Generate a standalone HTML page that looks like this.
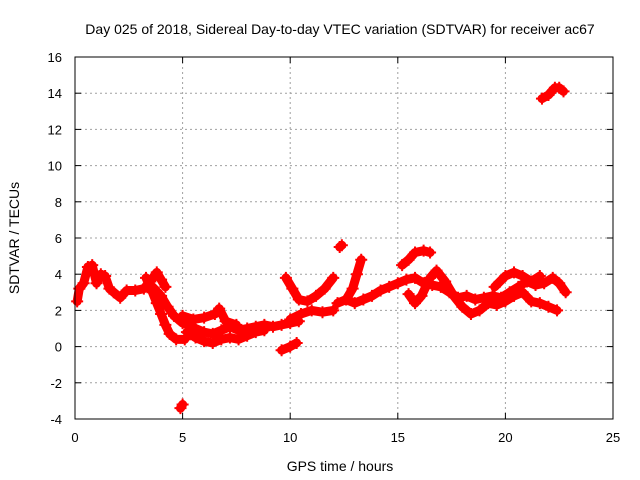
<!DOCTYPE html>
<html><head><meta charset="utf-8"><style>
body{margin:0;background:#fff;}
svg{display:block;font-family:"Liberation Sans",sans-serif;}
</style></head><body>
<svg id="c" width="640" height="480">
<text x="340" y="34" font-size="14" text-anchor="middle">Day 025 of 2018, Sidereal Day-to-day VTEC variation (SDTVAR) for receiver ac67</text>
<text x="340" y="471" font-size="14" text-anchor="middle">GPS time / hours</text>
<text transform="translate(19,238) rotate(-90)" font-size="14" text-anchor="middle">SDTVAR / TECUs</text>
<g id="grid"></g><g id="marks"></g>
<rect x="75" y="57" width="538" height="362" fill="none" stroke="#000" stroke-width="1"/>
</svg>
<script>
const xTicks=[0,5,10,15,20,25];
const yTicks=[-4,-2,0,2,4,6,8,10,12,14,16];
const trackEarly=[[0.1,2.5],[0.2,3.2],[0.4,3.5],[0.6,4.4],[0.8,4.5],[1.0,3.5],[1.2,4.0],[1.4,3.9],[1.6,3.2],[1.8,3.0],[2.1,2.7],[2.4,3.1],[2.8,3.1],[3.2,3.2],[3.5,3.6],[3.8,4.1],[4.0,3.7],[4.2,3.3]];
const trackDescentA=[[3.3,3.8],[3.6,3.0],[3.8,2.4],[4.0,1.8],[4.2,1.2],[4.4,0.7],[4.7,0.4],[5.1,0.4]];
const trackDescentB=[[3.6,3.3],[4.0,2.8],[4.3,2.2],[4.6,1.7],[5.0,1.3],[5.3,1.2],[5.6,1.0],[6.0,0.8],[6.4,0.7],[6.8,0.9],[7.2,1.1],[7.6,0.9],[8.0,1.0],[8.4,1.1],[8.8,1.2],[9.2,1.1],[9.6,1.2],[10.0,1.3],[10.4,1.4]];
const trackLow=[[5.2,0.8],[5.6,0.5],[6.0,0.3],[6.4,0.2],[6.8,0.4],[7.2,0.5],[7.6,0.4],[8.0,0.6],[8.4,0.8],[8.8,0.9]];
const trackMid=[[5.0,1.7],[5.5,1.5],[6.0,1.6],[6.5,1.8],[6.7,2.1],[7.0,1.4],[7.5,1.2]];
const trackNeg=[[9.6,-0.2],[10.0,0.0],[10.3,0.2]];
const trackOutlier=[[4.9,-3.4],[5.0,-3.2]];
const trackNoonA=[[9.8,3.8],[10.1,3.2],[10.4,2.6],[10.8,2.5],[11.2,2.8],[11.6,3.2],[12.0,3.8]];
const trackNoonB=[[10.0,1.5],[10.5,1.8],[11.0,2.0],[11.5,1.9],[12.0,2.0]];
const trackSpike=[[12.3,5.5],[12.4,5.6]];
const trackClimb=[[12.6,2.6],[12.9,3.2],[13.1,4.0],[13.3,4.8]];
const trackMain=[[12.2,2.4],[12.6,2.6],[13.0,2.4],[13.4,2.6],[13.8,2.8],[14.2,3.1],[14.6,3.3],[15.0,3.5],[15.4,3.7],[15.8,3.8],[16.2,3.5],[16.6,3.4],[17.0,3.3],[17.4,3.0],[17.8,2.7],[18.2,2.8],[18.6,2.6],[19.0,2.7],[19.4,2.8],[19.8,2.7],[20.2,3.0],[20.6,3.3],[21.0,3.6],[21.4,3.4],[21.8,3.5],[22.2,3.8],[22.5,3.5],[22.8,3.0]];
const trackHigh=[[15.2,4.5],[15.5,4.8],[15.8,5.2],[16.2,5.3],[16.5,5.2]];
const trackLate=[[15.5,2.9],[15.8,2.4],[16.1,2.8],[16.5,3.8],[16.8,4.2],[17.2,3.6],[17.6,2.8],[18.0,2.2],[18.4,1.8],[18.8,2.0],[19.2,2.4],[19.6,2.3],[20.0,2.5],[20.4,2.8],[20.8,3.0],[21.2,2.5],[21.6,2.4],[22.0,2.2],[22.4,2.0]];
const trackEvening=[[19.5,3.3],[20.0,3.9],[20.4,4.1],[20.8,3.9],[21.2,3.6],[21.6,3.9]];
const trackTop=[[21.7,13.7],[22.0,13.9],[22.3,14.3],[22.5,14.3],[22.7,14.1]];
const tracks=[trackEarly,trackDescentA,trackDescentB,trackLow,trackMid,trackNeg,trackOutlier,trackNoonA,trackNoonB,trackSpike,trackClimb,trackMain,trackHigh,trackLate,trackEvening,trackTop];

const NS='http://www.w3.org/2000/svg';
const X=v=>75+(v-0)/25*538;
const Y=v=>419-(v+4)/20*362;
const grid=document.getElementById('grid'),marks=document.getElementById('marks');
function mk(t,a,p){const e=document.createElementNS(NS,t);for(const k in a)e.setAttribute(k,a[k]);p.appendChild(e);return e;}
xTicks.forEach(t=>{
  const x=X(t);
  if(t>0&&t<25){const g=mk('line',{x1:x,x2:x,y1:57,y2:419,stroke:'#a0a0a0','stroke-dasharray':'2,3'},grid);
  
  }
  mk('line',{x1:x,x2:x,y1:419,y2:413,stroke:'#000'},grid);
  mk('line',{x1:x,x2:x,y1:57,y2:63,stroke:'#000'},grid);
  const l=mk('text',{x:x,y:442,'font-size':13,'text-anchor':'middle'},grid);l.textContent=t;
  
  
});
yTicks.forEach(t=>{
  const y=Y(t);
  if(t>-4&&t<16){const g=mk('line',{x1:75,x2:613,y1:y,y2:y,stroke:'#a0a0a0','stroke-dasharray':'2,3'},grid);
  
  }
  mk('line',{x1:75,x2:81,y1:y,y2:y,stroke:'#000'},grid);
  mk('line',{x1:613,x2:607,y1:y,y2:y,stroke:'#000'},grid);
  const l=mk('text',{x:62,y:y+5,'font-size':13,'text-anchor':'end'},grid);l.textContent=t;
  
  
});
tracks.forEach(tr=>{
  const pl=mk('polyline',{points:tr.map(p=>X(p[0])+','+Y(p[1])).join(' '),fill:'none',stroke:'#ff0000','stroke-width':9,'stroke-linejoin':'round','stroke-linecap':'round'},marks);
  
  
  tr.forEach(p=>{
    const x=X(p[0]),y=Y(p[1]);
    const c=mk('path',{d:`M${x-6},${y}H${x+6}M${x},${y-6}V${y+6}`,stroke:'#ff0000','stroke-width':2},marks);
    
    
  });
});
</script>
</body></html>
